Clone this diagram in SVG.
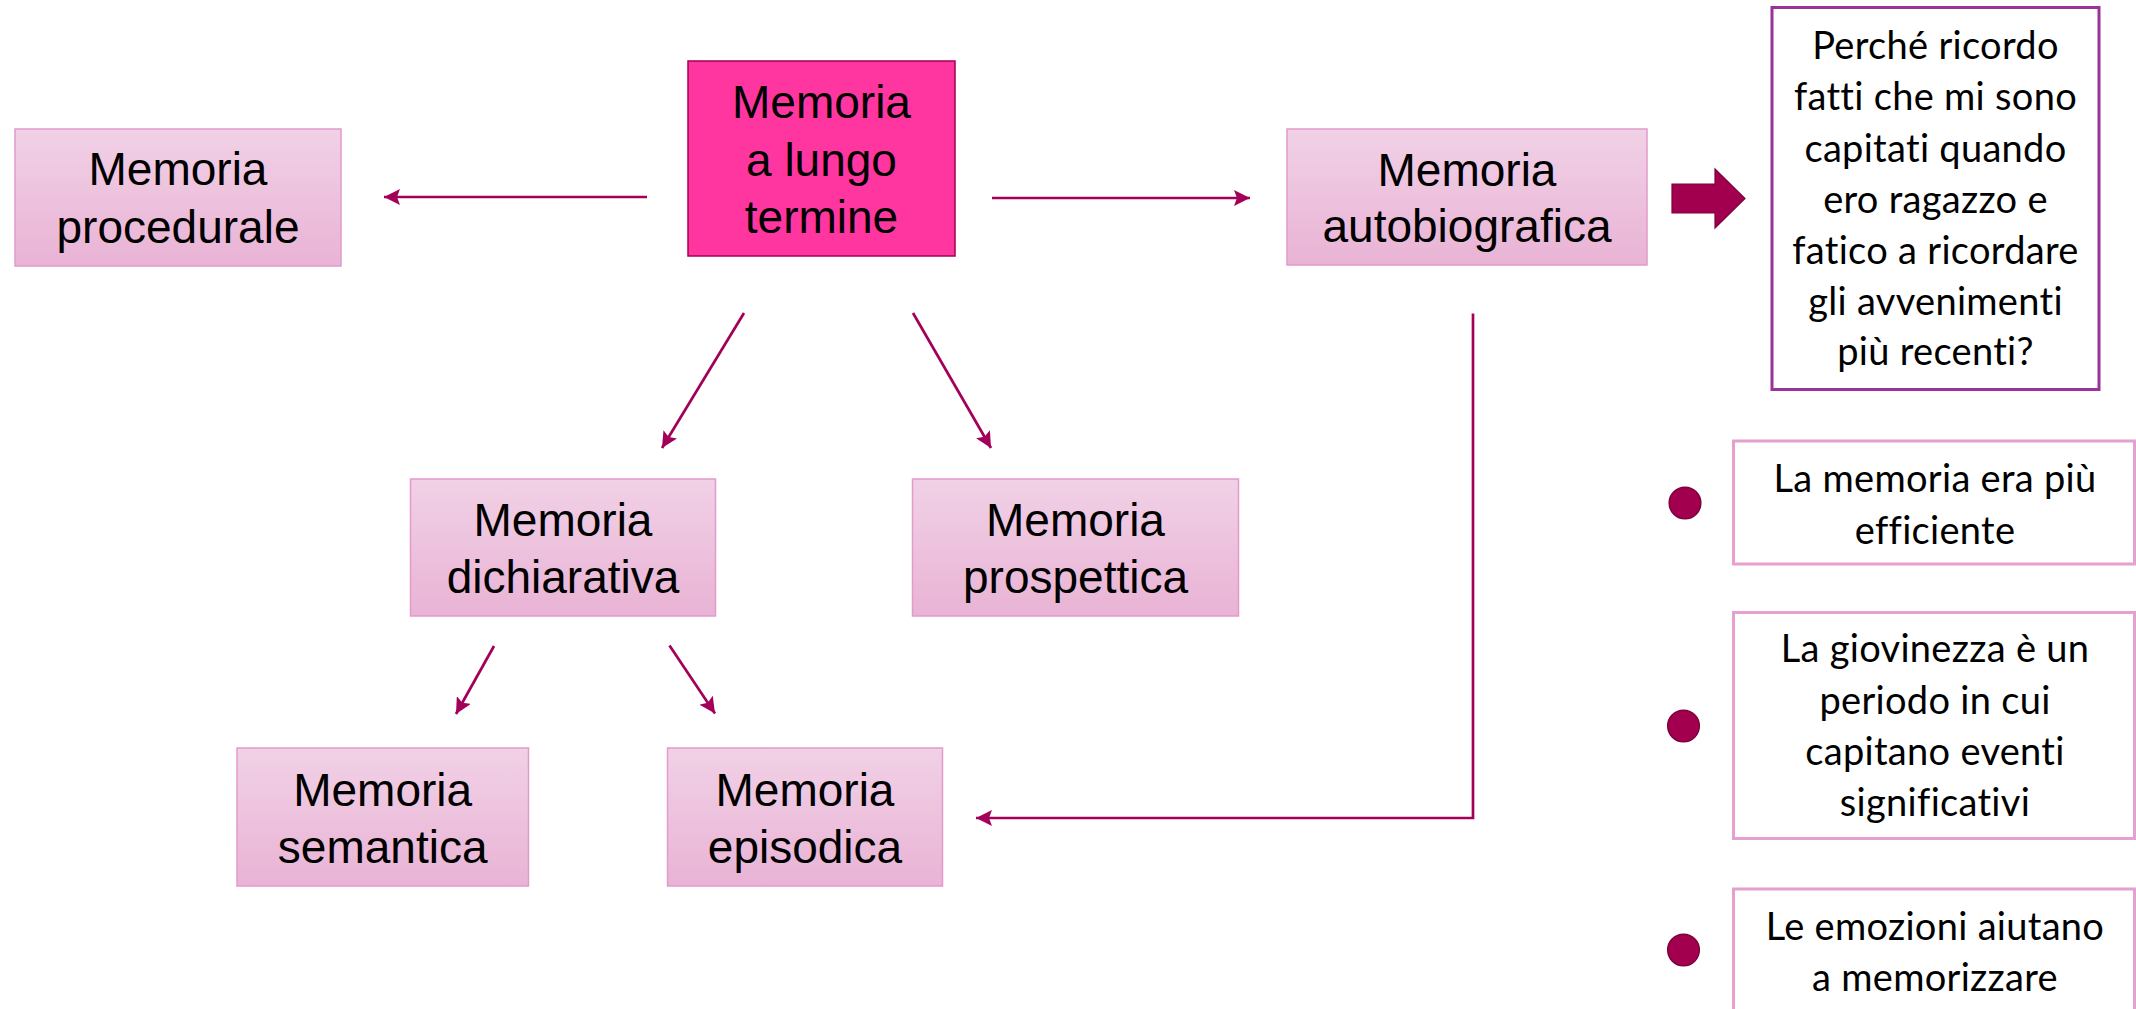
<svg xmlns="http://www.w3.org/2000/svg" width="2136" height="1009" viewBox="0 0 2136 1009">
<defs>
<linearGradient id="pinkGrad" x1="0" y1="0" x2="0" y2="1">
<stop offset="0" stop-color="#F1D1E6"/>
<stop offset="1" stop-color="#E9B3D5"/>
</linearGradient>
<marker id="ah" markerUnits="userSpaceOnUse" markerWidth="18" markerHeight="16" refX="16" refY="8" orient="auto">
<path d="M0,0 L16,8 L0,16 L3,8 z" fill="#A3005A"/>
</marker>
<style>
.node{fill:url(#pinkGrad);stroke:#E29BCA;stroke-width:1.5}
.main{fill:#FF35A0;stroke:#A4004F;stroke-width:1.5}
.lbl{font-family:"Liberation Sans",Arial,sans-serif;font-size:46px;fill:#000;text-anchor:middle}
.conn{stroke:#A3005A;stroke-width:2.7;fill:none;marker-end:url(#ah)}
.qbox{fill:#fff;stroke:#993399;stroke-width:3}
.rbox{fill:#fff;stroke:#E6A0CF;stroke-width:3}
.rtxt{font-family:Lato,"Open Sans",sans-serif;font-size:38px;fill:#000;text-anchor:middle;font-variant-ligatures:none;font-feature-settings:"liga" 0,"clig" 0;letter-spacing:0.3px}
.bullet{fill:#A2004F;stroke:#7E003C;stroke-width:1.5}
</style>
</defs>
<rect width="2136" height="1009" fill="#fff"/>

<g id="connectors">
<line class="conn" x1="647" y1="197" x2="384" y2="197"/>
<line class="conn" x1="992" y1="198" x2="1250" y2="198"/>
<line class="conn" x1="744" y1="313" x2="662" y2="448"/>
<line class="conn" x1="913" y1="313" x2="991" y2="448"/>
<line class="conn" x1="494" y1="646" x2="456" y2="714"/>
<line class="conn" x1="669.5" y1="645.5" x2="715" y2="713.5"/>
<polyline class="conn" points="1473,313.5 1473,818 976,818"/>
</g>

<g id="node-lungo-termine">
<rect class="main" x="688" y="61" width="267" height="195"/>
<text class="lbl" x="821.5" y="118">Memoria</text>
<text class="lbl" x="821.5" y="176">a lungo</text>
<text class="lbl" x="821.5" y="233">termine</text>
</g>

<g id="node-procedurale">
<rect class="node" x="15" y="129" width="326" height="137"/>
<text class="lbl" x="178" y="185">Memoria</text>
<text class="lbl" x="178" y="243">procedurale</text>
</g>

<g id="node-autobiografica">
<rect class="node" x="1287" y="129" width="360" height="136"/>
<text class="lbl" x="1467" y="186">Memoria</text>
<text class="lbl" x="1467" y="242">autobiografica</text>
</g>

<g id="node-dichiarativa">
<rect class="node" x="410.5" y="479" width="305" height="137"/>
<text class="lbl" x="563" y="536">Memoria</text>
<text class="lbl" x="563" y="593">dichiarativa</text>
</g>

<g id="node-prospettica">
<rect class="node" x="912.5" y="479" width="326" height="137"/>
<text class="lbl" x="1075.5" y="536">Memoria</text>
<text class="lbl" x="1075.5" y="593">prospettica</text>
</g>

<g id="node-semantica">
<rect class="node" x="237" y="748" width="291.5" height="138"/>
<text class="lbl" x="382.7" y="806">Memoria</text>
<text class="lbl" x="382.7" y="863">semantica</text>
</g>

<g id="node-episodica">
<rect class="node" x="667.5" y="748" width="275" height="138"/>
<text class="lbl" x="805" y="806">Memoria</text>
<text class="lbl" x="805" y="863">episodica</text>
</g>

<g id="block-arrow">
<path d="M1672,184 L1715,184 L1715,169 L1745,198.5 L1715,228 L1715,213 L1672,213 z" fill="#A2004F" stroke="#7E003C" stroke-width="1.2"/>
</g>

<g id="node-domanda">
<rect class="qbox" x="1772" y="7.5" width="327" height="382"/>
<text class="rtxt" x="1935.5" y="59">Perché ricordo</text>
<text class="rtxt" x="1935.5" y="110">fatti che mi sono</text>
<text class="rtxt" x="1935.5" y="161.5">capitati quando</text>
<text class="rtxt" x="1935.5" y="212.5">ero ragazzo e</text>
<text class="rtxt" x="1935.5" y="263.5">fatico a ricordare</text>
<text class="rtxt" x="1935.5" y="314.5">gli avvenimenti</text>
<text class="rtxt" x="1935.5" y="365">più recenti?</text>
</g>

<g id="bullet-1"><circle class="bullet" cx="1685" cy="503" r="15.8"/></g>
<g id="node-efficiente">
<rect class="rbox" x="1733.5" y="441" width="401" height="123"/>
<text class="rtxt" x="1935" y="491.5">La memoria era più</text>
<text class="rtxt" x="1935" y="544">efficiente</text>
</g>

<g id="bullet-2"><circle class="bullet" cx="1683.5" cy="726" r="15.8"/></g>
<g id="node-giovinezza">
<rect class="rbox" x="1733.5" y="612.5" width="401" height="226"/>
<text class="rtxt" x="1935" y="661.5">La giovinezza è un</text>
<text class="rtxt" x="1935" y="713.5">periodo in cui</text>
<text class="rtxt" x="1935" y="765">capitano eventi</text>
<text class="rtxt" x="1935" y="816">significativi</text>
</g>

<g id="bullet-3"><circle class="bullet" cx="1683.5" cy="950" r="15.8"/></g>
<g id="node-emozioni">
<rect class="rbox" x="1733.5" y="889" width="401" height="130"/>
<text class="rtxt" x="1935" y="940">Le emozioni aiutano</text>
<text class="rtxt" x="1935" y="990.5">a memorizzare</text>
</g>
</svg>
